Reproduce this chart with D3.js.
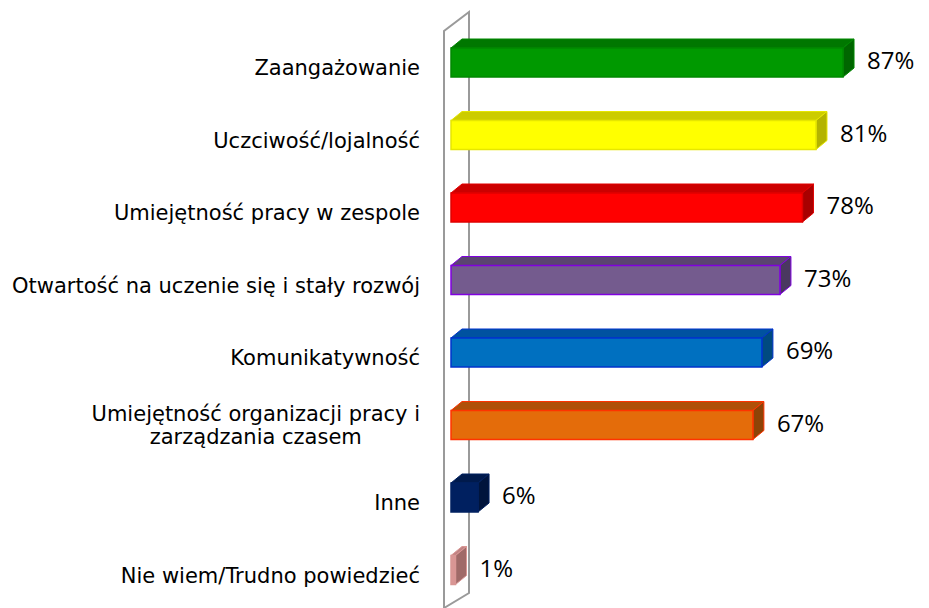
<!DOCTYPE html>
<html>

<head>
    <meta charset="utf-8">
    <script type="text/javascript" src="https://d3js.org/d3.v7.min.js"></script>
    <style>
        body { margin: 0; background: #fff; }
    </style>
</head>

<body>
    <script>
        // chart data
        var categories = [
            "Zaangażowanie",
            "Uczciwość/lojalność",
            "Umiejętność pracy w zespole",
            "Otwartość na uczenie się i stały rozwój",
            "Komunikatywność",
            "Umiejętność organizacji pracy i|zarządzania czasem",
            "Inne",
            "Nie wiem/Trudno powiedzieć"
        ];
        var values = [87, 81, 78, 73, 69, 67, 6, 1];

        // front / top / side / outline colour per bar
        var frontColors = ["#009900", "#ffff00", "#ff0000", "#745b8e", "#0070c0", "#e46c0a", "#002060", "#d99694"];
        var topColors = ["#007700", "#cccc00", "#cc0000", "#5a4570", "#0052a0", "#b05008", "#001a4c", "#c08282"];
        var sideColors = ["#006600", "#b3b300", "#a80000", "#4a3860", "#004a80", "#8e4306", "#00143c", "#a06a68"];
        var strokeColors = ["#008800", "#e6e600", "#e00000", "#8000e0", "#0033cc", "#ff3300", "#002060", "#d99694"];

        var width = 929;
        var height = 608;

        var svg = d3.select("body").append("svg").attr("width", width).attr("height", height);

        var x = d3.scaleLinear().domain([0, 100]).range([451, 901.6]);
        var y = d3.scalePoint().domain(categories).range([62.5, 570]);

        var barH = 29;
        var dx = 11, dy = 9;   // depth of the 3D bars

        // the wall behind the bars
        var wall = svg.append("g").attr("fill", "none").attr("stroke", "#9a9a9a").attr("stroke-width", 2);
        wall.append("path").attr("d", "M444,610 L444,31 L469,12 L469,593 L444,608");

        // bars
        var bars = svg.selectAll("g.bar")
            .data(values)
            .enter()
            .append("g")
            .attr("class", "bar");

        bars.append("path") // top face
            .attr("d", function(d, i) {
                var x0 = x(0), x1 = x(d), t = y(categories[i]) - barH / 2;
                return "M" + x0 + "," + t + "L" + (x0 + dx) + "," + (t - dy) + "L" + (x1 + dx) + "," + (t - dy) + "L" + x1 + "," + t + "Z";
            })
            .attr("fill", function(d, i) { return topColors[i]; })
            .attr("stroke", function(d, i) { return strokeColors[i]; })
            .attr("stroke-width", 1);

        bars.append("path") // side face
            .attr("d", function(d, i) {
                var x1 = x(d), t = y(categories[i]) - barH / 2, b = t + barH;
                return "M" + x1 + "," + t + "L" + (x1 + dx) + "," + (t - dy) + "L" + (x1 + dx) + "," + (b - dy) + "L" + x1 + "," + b + "Z";
            })
            .attr("fill", function(d, i) { return sideColors[i]; })
            .attr("stroke", function(d, i) { return strokeColors[i]; })
            .attr("stroke-width", 1);

        bars.append("rect") // front face
            .attr("x", x(0))
            .attr("y", function(d, i) { return y(categories[i]) - barH / 2; })
            .attr("width", function(d) { return x(d) - x(0); })
            .attr("height", barH)
            .attr("fill", function(d, i) { return frontColors[i]; })
            .attr("stroke", function(d, i) { return strokeColors[i]; })
            .attr("stroke-width", 1.5);

        // value labels
        svg.selectAll("text.val")
            .data(values)
            .enter()
            .append("text")
            .attr("class", "val")
            .attr("x", function(d) { return x(d) + dx + 13; })
            .attr("y", function(d, i) { return y(categories[i]) - 2; })
            .attr("dy", "0.36em")
            .attr("font-family", "'Open Sans', sans-serif")
            .attr("font-size", 24)
            .attr("fill", "#000")
            .text(function(d) { return d + "%"; });

        // category labels, right edge at 420, wrapped lines centred on each other
        var cat = svg.selectAll("text.cat")
            .data(categories)
            .enter()
            .append("text")
            .attr("class", "cat")
            .attr("text-anchor", "middle")
            .attr("font-family", "'DejaVu Sans', sans-serif")
            .attr("font-size", 21)
            .attr("fill", "#000");

        cat.each(function(c) {
            var lines = c.split("|");
            var n = lines.length;
            var off = n == 1 ? 5 : 0;
            var t = d3.select(this);
            var spans = lines.map(function(l, k) {
                return t.append("tspan")
                    .attr("y", y(c) + off + (k - (n - 1) / 2) * 23.5)
                    .attr("dy", "0.36em")
                    .text(l);
            });
            var w = d3.max(spans, function(s) { return s.node().getComputedTextLength(); });
            spans.forEach(function(s) { s.attr("x", 420 - w / 2); });
        });
    </script>
</body>

</html>
